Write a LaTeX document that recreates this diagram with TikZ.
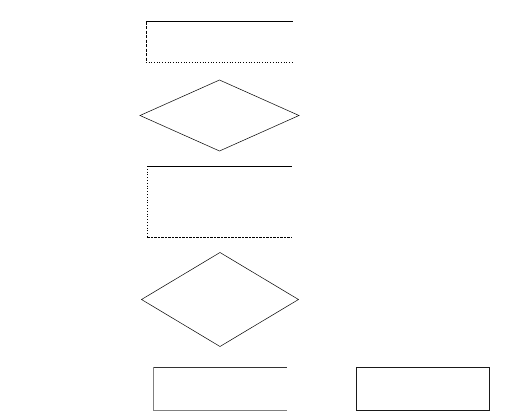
\documentclass[tikz,border=0pt]{standalone}
\usepackage{tikz}
\usetikzlibrary{shapes.geometric}

\begin{document}
\begin{tikzpicture}[x=1pt, y=-1pt,
    boxshape/.style={rectangle, inner sep=0pt, outer sep=0pt},
    decision/.style={diamond, draw, inner sep=0pt, outer sep=0pt, line width=0.5pt}]

  \useasboundingbox (0,0) rectangle (507,420);

  % Boxes (sides drawn separately)
  \node[boxshape, minimum width=146.7pt, minimum height=41pt] (input) at (219.3,42.2) {};
  \node[boxshape, minimum width=144.4pt, minimum height=71.3pt] (process) at (219.5,201.7) {};
  \node[boxshape, minimum width=133.4pt, minimum height=42.7pt] (outleft) at (220,388.7) {};
  \node[boxshape, minimum width=132.6pt, minimum height=42.7pt] (outright) at (423,388.7) {};

  % Decisions
  \node[decision, minimum width=159pt, minimum height=71pt] (checkA) at (219.5,115.5) {};
  \node[decision, minimum width=157pt, minimum height=94pt] (checkB) at (220,299.5) {};

  % Top box
  \draw[line width=0.8pt] (input.north west) -- (input.north east);
  \draw[line width=0.8pt, dash pattern=on 3pt off 1.5pt] (input.north west) -- (input.south west);
  \draw[line width=0.7pt, dotted] (input.south west) -- (input.south east);

  % Middle box
  \draw[line width=1pt] (process.north west) -- (process.north east);
  \draw[line width=0.8pt, dotted] (process.north west) -- (process.south west);
  \draw[line width=0.8pt, dash pattern=on 2.5pt off 1pt] (process.south west) -- (process.south east);

  % Bottom boxes
  \draw[line width=0.7pt, black!80] (outleft.north west) -- (outleft.north east);
  \draw[line width=0.7pt, gray] (outleft.north west) -- (outleft.south west) -- (outleft.south east);
  \draw[line width=0.7pt, black!90] (outright.north west) rectangle (outright.south east);

\end{tikzpicture}
\end{document}
